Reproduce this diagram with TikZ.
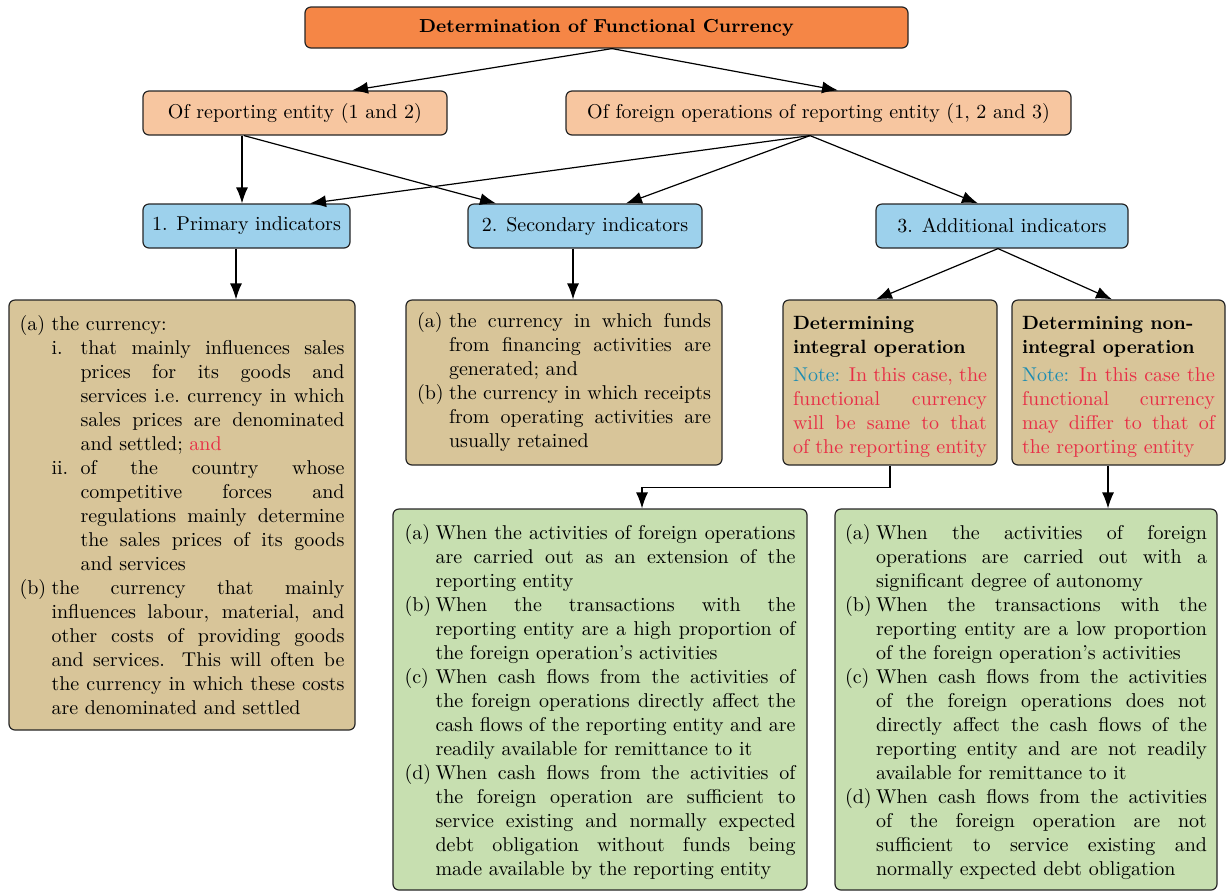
\documentclass[tikz,border=0pt]{standalone}
\usetikzlibrary{arrows.meta}
\definecolor{cTitle}{RGB}{245,134,70}
\definecolor{cPeach}{RGB}{247,198,160}
\definecolor{cBlue}{RGB}{157,209,236}
\definecolor{cTan}{RGB}{216,197,153}
\definecolor{cGreen}{RGB}{199,223,176}
\definecolor{cNote}{RGB}{28,140,178}
\definecolor{cRed}{RGB}{232,46,70}
% justified row: #1 label column width, #2 label, #3 text
\newcommand\rowj[3]{\hbox to\hsize{\hbox to #1{#2\hfil}\hbox to\dimexpr\hsize-#1\relax{\spaceskip=0pt\xspaceskip=0pt #3}}}
% final (ragged) row
\newcommand\rowf[3]{\hbox to\hsize{\hbox to #1{#2\hfil}{\spaceskip=0pt\xspaceskip=0pt #3}\hfil}}
\begin{document}
\begin{tikzpicture}[x=0.5pt,y=-0.5pt,
  every node/.style={font=\fontsize{10}{12}\selectfont},
  bx/.style={draw=black!85, line width=0.6pt, rounded corners=3pt, inner ysep=0pt},
  hd/.style={bx, minimum height=22pt},
  conn/.style={line width=0.6pt, -{Latex[length=8pt,width=6pt]}},
]
\useasboundingbox (0,0) rectangle (1226,891);

\node[bx, fill=cTitle, minimum width=301.5pt, minimum height=20.5pt,
      font=\fontsize{9.4}{12}\selectfont\bfseries] (title) at (606.5,27.5) {Determination of Functional Currency};
\node[hd, fill=cPeach, minimum width=152pt] (rep) at (295,113) {Of reporting entity (1 and 2)};
\node[hd, fill=cPeach, minimum width=252.5pt] (for) at (818.5,113) {Of foreign operations of reporting entity (1, 2 and 3)};
\node[hd, fill=cBlue, minimum width=103.5pt] (prim) at (246.5,226) {1. Primary indicators};
\node[hd, fill=cBlue, minimum width=117pt] (sec) at (585,226) {2. Secondary indicators};
\node[hd, fill=cBlue, minimum width=126pt] (add) at (1002,226) {3. Additional indicators};

\node[bx, fill=cTan, text width=162.5pt, inner xsep=5.25pt, minimum height=215pt] (b1) at (182,515) {%
\rowf{16pt}{(a)}{the currency:}
\rowj{30.5pt}{\hskip16pt i.}{that mainly influences sales}
\rowj{30.5pt}{}{prices for its goods and}
\rowj{30.5pt}{}{services i.e.\ currency in which}
\rowj{30.5pt}{}{sales prices are denominated}
\rowf{30.5pt}{}{and settled; \textcolor{cRed}{and}}
\rowj{30.5pt}{\hskip16pt ii.}{of the country whose}
\rowj{30.5pt}{}{competitive forces and}
\rowj{30.5pt}{}{regulations mainly determine}
\rowj{30.5pt}{}{the sales prices of its goods}
\rowf{30.5pt}{}{and services}
\rowj{16pt}{(b)}{the currency that mainly}
\rowj{16pt}{}{influences labour, material, and}
\rowj{16pt}{}{other costs of providing goods}
\rowj{16pt}{}{and services. This will often be}
\rowj{16pt}{}{the currency in which these costs}
\rowf{16pt}{}{are denominated and settled}};

\node[bx, fill=cTan, text width=147pt, inner xsep=5.5pt, minimum height=82.5pt] (b2) at (564,382.5) {%
\rowj{16pt}{(a)}{the currency in which funds}
\rowj{16pt}{}{from financing activities are}
\rowf{16pt}{}{generated; and}
\rowj{16pt}{(b)}{the currency in which receipts}
\rowj{16pt}{}{from operating activities are}
\rowf{16pt}{}{usually retained}};

\node[bx, fill=cTan, text width=97pt, inner xsep=5pt, minimum height=82.5pt] (int) at (890,382.5) {%
\rowf{0pt}{\rule{0pt}{11pt}}{\fontsize{9.6}{12}\selectfont\bfseries Determining}
\rowf{0pt}{}{\fontsize{9.6}{12}\selectfont\bfseries integral operation}
\vskip2pt
\rowj{0pt}{}{\textcolor{cNote}{Note:} \color{cRed}In this case, the}
\rowj{0pt}{}{\color{cRed}functional currency}
\rowj{0pt}{}{\color{cRed}will be same to that}
\rowj{0pt}{}{\color{cRed}of the reporting entity}};

\node[bx, fill=cTan, text width=96.5pt, inner xsep=5pt, minimum height=82.5pt] (nint) at (1118.5,382.5) {%
\rowf{0pt}{\rule{0pt}{11pt}}{\fontsize{9.6}{12}\selectfont\bfseries Determining non-}
\rowf{0pt}{}{\fontsize{9.6}{12}\selectfont\bfseries integral operation}
\vskip2pt
\rowj{0pt}{}{\textcolor{cNote}{Note:} \color{cRed}In this case the}
\rowj{0pt}{}{\color{cRed}functional currency}
\rowj{0pt}{}{\color{cRed}may differ to that of}
\rowf{0pt}{}{\color{cRed}the reporting entity}};

\node[bx, fill=cGreen, text width=195.5pt, inner xsep=5.75pt, minimum height=190.5pt] (g1) at (600,699.5) {%
\rowj{15.5pt}{\rule{0pt}{10pt}(a)}{When the activities of foreign operations}
\rowj{15.5pt}{}{are carried out as an extension of the}
\rowf{15.5pt}{}{reporting entity}
\rowj{15.5pt}{(b)}{When the transactions with the}
\rowj{15.5pt}{}{reporting entity are a high proportion of}
\rowf{15.5pt}{}{the foreign operation’s activities}
\rowj{15.5pt}{(c)}{When cash flows from the activities of}
\rowj{15.5pt}{}{the foreign operations directly affect the}
\rowj{15.5pt}{}{cash flows of the reporting entity and are}
\rowf{15.5pt}{}{readily available for remittance to it}
\rowj{15.5pt}{(d)}{When cash flows from the activities of}
\rowj{15.5pt}{}{the foreign operation are sufficient to}
\rowj{15.5pt}{}{service existing and normally expected}
\rowj{15.5pt}{}{debt obligation without funds being}
\rowf{15.5pt}{}{made available by the reporting entity}};

\node[bx, fill=cGreen, text width=181pt, inner xsep=5pt, minimum height=190.5pt] (g2) at (1026,699.5) {%
\rowj{15.5pt}{\rule{0pt}{10pt}(a)}{When the activities of foreign}
\rowj{15.5pt}{}{operations are carried out with a}
\rowf{15.5pt}{}{significant degree of autonomy}
\rowj{15.5pt}{(b)}{When the transactions with the}
\rowj{15.5pt}{}{reporting entity are a low proportion}
\rowf{15.5pt}{}{of the foreign operation’s activities}
\rowj{15.5pt}{(c)}{When cash flows from the activities}
\rowj{15.5pt}{}{of the foreign operations does not}
\rowj{15.5pt}{}{directly affect the cash flows of the}
\rowj{15.5pt}{}{reporting entity and are not readily}
\rowf{15.5pt}{}{available for remittance to it}
\rowj{15.5pt}{(d)}{When cash flows from the activities}
\rowj{15.5pt}{}{of the foreign operation are not}
\rowj{15.5pt}{}{sufficient to service existing and}
\rowf{15.5pt}{}{normally expected debt obligation}};

% connectors
\coordinate (ts) at ([xshift=2.75pt]title.south);
\coordinate (rs1) at ([xshift=-26.5pt]rep.south);
\coordinate (rs2) at ([xshift=-25.5pt]rep.south);
\coordinate (fs) at ([xshift=-4.25pt]for.south);
\coordinate (ps) at ([xshift=-5.25pt]prim.south);
\coordinate (ss) at ([xshift=-6pt]sec.south);
\coordinate (as) at ([xshift=-2pt]add.south);
\coordinate (ns) at ([xshift=-5.25pt]nint.south);

\draw[conn] (ts) -- ([xshift=28.5pt]rep.north);
\draw[conn] (ts) -- ([xshift=9.75pt]for.north);
\draw[conn] (rs1) -- (rs1 |- prim.north);
\draw[conn] (rs2) -- ([xshift=-44.5pt]sec.north);
\draw[conn] (fs) -- ([xshift=31.75pt]prim.north);
\draw[conn] (fs) -- ([xshift=20.5pt]sec.north);
\draw[conn] (fs) -- ([xshift=-12pt]add.north);
\draw[conn] (ps) -- (ps |- b1.north);
\draw[conn] (ss) -- (ss |- b2.north);
\draw[conn] (as) -- ([xshift=-7pt]int.north);
\draw[conn] (as) -- ([xshift=-3.25pt]nint.north);
\draw[conn] (int.south) -- ++(0,22) -| ([xshift=21pt]g1.north);
\draw[conn] (ns) -- (ns |- g2.north);
\end{tikzpicture}
\end{document}
